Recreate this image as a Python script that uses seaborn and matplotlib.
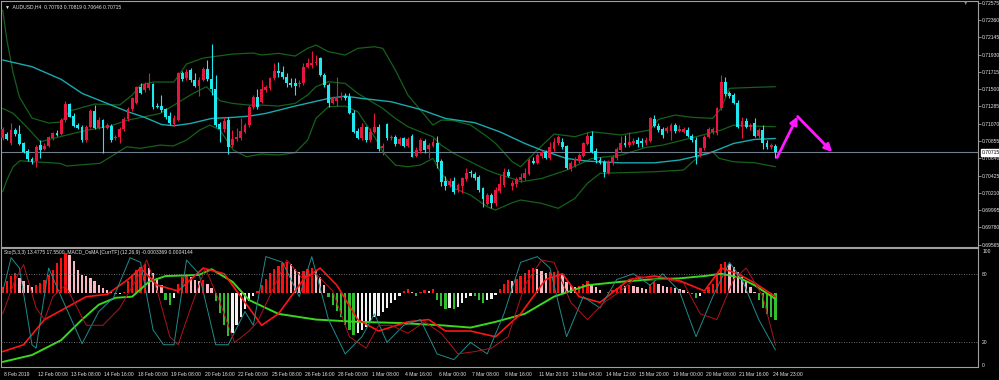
import numpy as np
import matplotlib
matplotlib.use("Agg")
import matplotlib.pyplot as plt
import matplotlib.transforms as mtransforms
import seaborn as sns

sns.set_theme(style="dark")
plt.rcParams['font.family'] = ['Liberation Sans', 'DejaVu Sans']

# AUDUSD H4 candles (8 Feb 2019 .. 24 Mar 2019)
open_ = [0.70887, 0.70941, 0.70825, 0.70991, 0.70941, 0.70825, 0.70734, 0.70634, 0.70609, 0.70804,
         0.70751, 0.70792, 0.70887, 0.70958, 0.70941, 0.71116, 0.71315, 0.71165, 0.71053, 0.71033,
         0.70867, 0.71033, 0.71228, 0.71020, 0.71116, 0.71020, 0.71041, 0.70887, 0.70908, 0.71000,
         0.71124, 0.71248, 0.71331, 0.71522, 0.71489, 0.71510, 0.71564, 0.71290, 0.71290, 0.71248,
         0.71165, 0.71066, 0.71116, 0.71705, 0.71634, 0.71738, 0.71614, 0.71539, 0.71614, 0.71746,
         0.71622, 0.71497, 0.71061, 0.71000, 0.71116, 0.70804, 0.70875, 0.70887, 0.70970, 0.71053,
         0.71273, 0.71406, 0.71344, 0.71489, 0.71510, 0.71634, 0.71730, 0.71717, 0.71647, 0.71580,
         0.71572, 0.71564, 0.71572, 0.71779, 0.71800, 0.71821, 0.71883, 0.71676, 0.71551, 0.71331,
         0.71356, 0.71385, 0.71414, 0.71406, 0.71207, 0.70983, 0.70887, 0.71024, 0.70867, 0.70970,
         0.71033, 0.70763, 0.71061, 0.70887, 0.70900, 0.70817, 0.70887, 0.70792, 0.70916, 0.70667,
         0.70734, 0.70858, 0.70751, 0.70792, 0.70825, 0.70605, 0.70360, 0.70306, 0.70360, 0.70244,
         0.70294, 0.70377, 0.70472, 0.70443, 0.70410, 0.70265, 0.70070, 0.70182, 0.70078, 0.70236,
         0.70306, 0.70472, 0.70294, 0.70319, 0.70368, 0.70389, 0.70443, 0.70609, 0.70584, 0.70667,
         0.70721, 0.70638, 0.70751, 0.70825, 0.70846, 0.70792, 0.70501, 0.70543, 0.70609, 0.70667,
         0.70817, 0.70916, 0.70734, 0.70618, 0.70597, 0.70460, 0.70576, 0.70638, 0.70742, 0.70833,
         0.70804, 0.70825, 0.70867, 0.70858, 0.70825, 0.70858, 0.71124, 0.71041, 0.71000, 0.70983,
         0.70983, 0.71053, 0.70983, 0.70970, 0.70991, 0.70916, 0.70867, 0.70667, 0.70763, 0.70908,
         0.70970, 0.70950, 0.71261, 0.71593, 0.71448, 0.71427, 0.71331, 0.71033, 0.71107, 0.71033,
         0.71074, 0.70916, 0.70991, 0.70834, 0.70775, 0.70793]
high = [0.71033, 0.70970, 0.71074, 0.71012, 0.71053, 0.70846, 0.70751, 0.70659, 0.70804, 0.70867,
        0.70825, 0.70916, 0.70970, 0.70991, 0.71136, 0.71356, 0.71331, 0.71199, 0.71074, 0.71053,
        0.71053, 0.71248, 0.71302, 0.71149, 0.71124, 0.71074, 0.71066, 0.70929, 0.71033, 0.71149,
        0.71281, 0.71406, 0.71539, 0.71580, 0.71593, 0.71705, 0.71580, 0.71331, 0.71427, 0.71261,
        0.71219, 0.71178, 0.71717, 0.71730, 0.71746, 0.71759, 0.71697, 0.71655, 0.71771, 0.71863,
        0.72062, 0.71676, 0.71095, 0.71149, 0.71149, 0.70991, 0.71012, 0.71136, 0.71083, 0.71302,
        0.71427, 0.71497, 0.71614, 0.71551, 0.71655, 0.71821, 0.71842, 0.71788, 0.71697, 0.71634,
        0.71634, 0.71614, 0.71821, 0.71883, 0.71979, 0.71925, 0.71896, 0.71705, 0.71572, 0.71414,
        0.71655, 0.71468, 0.71448, 0.71456, 0.71240, 0.71012, 0.71074, 0.71041, 0.71012, 0.71207,
        0.71066, 0.70825, 0.71074, 0.70929, 0.70929, 0.70900, 0.70908, 0.70900, 0.70941, 0.70775,
        0.70887, 0.70875, 0.70825, 0.70887, 0.70916, 0.70626, 0.70418, 0.70389, 0.70410, 0.70327,
        0.70410, 0.70514, 0.70493, 0.70472, 0.70431, 0.70286, 0.70211, 0.70203, 0.70286, 0.70431,
        0.70514, 0.70501, 0.70368, 0.70410, 0.70452, 0.70514, 0.70638, 0.70659, 0.70709, 0.70742,
        0.70742, 0.70846, 0.70887, 0.70929, 0.70887, 0.70804, 0.70609, 0.70659, 0.70709, 0.70846,
        0.70970, 0.70983, 0.70763, 0.70651, 0.70618, 0.70618, 0.70680, 0.70775, 0.70916, 0.70929,
        0.70970, 0.70887, 0.70900, 0.70887, 0.70900, 0.71149, 0.71178, 0.71074, 0.71033, 0.71041,
        0.71083, 0.71074, 0.71053, 0.71024, 0.71033, 0.70941, 0.70908, 0.70784, 0.70929, 0.71024,
        0.71033, 0.71281, 0.71676, 0.71655, 0.71481, 0.71448, 0.71365, 0.71149, 0.71136, 0.71083,
        0.71136, 0.71012, 0.71053, 0.70867, 0.70825, 0.70819]
low = [0.70867, 0.70867, 0.70804, 0.70916, 0.70804, 0.70701, 0.70609, 0.70568, 0.70535, 0.70638,
       0.70742, 0.70775, 0.70867, 0.70916, 0.70929, 0.71095, 0.71149, 0.71024, 0.71000, 0.70846,
       0.70846, 0.71012, 0.71000, 0.71000, 0.70701, 0.71008, 0.70846, 0.70867, 0.70834, 0.70983,
       0.71107, 0.71232, 0.71315, 0.71439, 0.71468, 0.71489, 0.71248, 0.71261, 0.71219, 0.71124,
       0.71053, 0.71041, 0.71107, 0.71605, 0.71614, 0.71593, 0.71522, 0.71414, 0.71605, 0.71605,
       0.71427, 0.71033, 0.70846, 0.70970, 0.70692, 0.70775, 0.70858, 0.70867, 0.70950, 0.71033,
       0.71248, 0.71248, 0.71323, 0.71468, 0.71489, 0.71614, 0.71655, 0.71622, 0.71531, 0.71531,
       0.71427, 0.71531, 0.71551, 0.71759, 0.71759, 0.71800, 0.71663, 0.71531, 0.71273, 0.71315,
       0.71290, 0.71365, 0.71365, 0.71190, 0.70950, 0.70875, 0.70867, 0.70846, 0.70846, 0.70950,
       0.70734, 0.70680, 0.70867, 0.70867, 0.70792, 0.70804, 0.70784, 0.70775, 0.70651, 0.70651,
       0.70709, 0.70709, 0.70638, 0.70775, 0.70514, 0.70294, 0.70252, 0.70286, 0.70194, 0.70223,
       0.70203, 0.70360, 0.70410, 0.70368, 0.70223, 0.70037, 0.70057, 0.70028, 0.70045, 0.70211,
       0.70286, 0.70402, 0.70252, 0.70286, 0.70348, 0.70368, 0.70431, 0.70568, 0.70568, 0.70638,
       0.70626, 0.70618, 0.70734, 0.70804, 0.70751, 0.70501, 0.70485, 0.70526, 0.70584, 0.70651,
       0.70804, 0.70709, 0.70584, 0.70568, 0.70410, 0.70443, 0.70555, 0.70618, 0.70721, 0.70784,
       0.70784, 0.70804, 0.70784, 0.70775, 0.70804, 0.70846, 0.71024, 0.70970, 0.70887, 0.70958,
       0.70867, 0.70958, 0.70970, 0.70950, 0.70900, 0.70846, 0.70568, 0.70651, 0.70742, 0.70887,
       0.70941, 0.70929, 0.71240, 0.71414, 0.71385, 0.71315, 0.71012, 0.70887, 0.71012, 0.70991,
       0.70900, 0.70887, 0.70751, 0.70751, 0.70751, 0.70646]
close = [0.71004, 0.70879, 0.70991, 0.70941, 0.70817, 0.70721, 0.70626, 0.70597, 0.70784, 0.70742,
         0.70796, 0.70900, 0.70958, 0.70929, 0.71116, 0.71315, 0.71157, 0.71041, 0.71020, 0.70867,
         0.71033, 0.71228, 0.71012, 0.71116, 0.71012, 0.71053, 0.70867, 0.70908, 0.71004, 0.71124,
         0.71248, 0.71385, 0.71522, 0.71456, 0.71564, 0.71580, 0.71273, 0.71281, 0.71240, 0.71149,
         0.71083, 0.71136, 0.71705, 0.71622, 0.71717, 0.71614, 0.71539, 0.71614, 0.71746, 0.71622,
         0.71497, 0.71053, 0.71000, 0.71107, 0.70784, 0.70875, 0.70900, 0.70983, 0.71053, 0.71281,
         0.71406, 0.71273, 0.71497, 0.71522, 0.71634, 0.71730, 0.71705, 0.71647, 0.71572, 0.71551,
         0.71539, 0.71580, 0.71771, 0.71821, 0.71829, 0.71842, 0.71676, 0.71551, 0.71331, 0.71385,
         0.71406, 0.71414, 0.71385, 0.71207, 0.70970, 0.70887, 0.71033, 0.70867, 0.70970, 0.71033,
         0.70755, 0.70792, 0.70887, 0.70900, 0.70817, 0.70875, 0.70792, 0.70875, 0.70659, 0.70742,
         0.70867, 0.70742, 0.70804, 0.70846, 0.70597, 0.70348, 0.70294, 0.70360, 0.70223, 0.70306,
         0.70389, 0.70460, 0.70452, 0.70389, 0.70252, 0.70140, 0.70182, 0.70078, 0.70252, 0.70319,
         0.70472, 0.70418, 0.70335, 0.70377, 0.70410, 0.70460, 0.70618, 0.70584, 0.70680, 0.70721,
         0.70638, 0.70784, 0.70846, 0.70908, 0.70775, 0.70514, 0.70584, 0.70626, 0.70680, 0.70825,
         0.70916, 0.70721, 0.70618, 0.70584, 0.70472, 0.70584, 0.70651, 0.70751, 0.70833, 0.70804,
         0.70846, 0.70858, 0.70817, 0.70825, 0.70867, 0.71136, 0.71041, 0.70991, 0.70929, 0.71012,
         0.71053, 0.70983, 0.71000, 0.71000, 0.70916, 0.70867, 0.70659, 0.70763, 0.70908, 0.71000,
         0.71000, 0.71261, 0.71593, 0.71439, 0.71414, 0.71331, 0.71033, 0.71107, 0.71033, 0.71053,
         0.70916, 0.70991, 0.70834, 0.70775, 0.70804, 0.70715]

# Bollinger bands (higher timeframe) and moving average, read at knots (bar index, price)
upper_bars = [0, 1, 2.5, 4, 7, 11, 14, 16, 22, 28, 31, 33, 36, 41, 44, 48, 55, 60, 62, 66, 70, 73, 75, 78,
              82, 85, 89, 91, 94, 97, 100, 103, 105, 108, 112, 116, 118, 122, 124, 128, 132, 137, 141,
              148, 155, 157, 161, 165, 170, 172, 174, 180, 185]
upper_vals = [0.72485, 0.72111, 0.71701, 0.71402, 0.71141, 0.71079, 0.71091, 0.71228, 0.71315, 0.71303,
              0.71427, 0.71552, 0.71589, 0.71589, 0.71813, 0.71887, 0.71937, 0.71950, 0.71925, 0.71946,
              0.71912, 0.72008, 0.72049, 0.71966, 0.71925, 0.72008, 0.72028, 0.72008, 0.71738, 0.71427,
              0.71241, 0.71054, 0.71116, 0.71108, 0.71054, 0.70909, 0.70826, 0.70597, 0.70535, 0.70743,
              0.70942, 0.70909, 0.70971, 0.70930, 0.70992, 0.71125, 0.71178, 0.71150, 0.71137, 0.71262,
              0.71511, 0.71523, 0.71531]
middle_bars = [0, 2.5, 5.7, 9, 13.7, 18.5, 22.5, 25.7, 30, 34, 37.7, 41, 45.6, 48.8, 52, 55, 59, 62, 66,
               70, 73, 75, 78, 82, 85, 89, 91, 94, 97, 100, 103, 105, 108, 112, 116, 118, 122, 124, 129,
               135, 141, 148, 154, 158, 166, 172, 175, 180, 185]
middle_vals = [0.71261, 0.71199, 0.71033, 0.70846, 0.70908, 0.70970, 0.71012, 0.71041, 0.71116, 0.71157,
               0.71199, 0.71302, 0.71448, 0.71531, 0.71356, 0.71323, 0.71302, 0.71302, 0.71290, 0.71323,
               0.71427, 0.71531, 0.71593, 0.71572, 0.71448, 0.71323, 0.71261, 0.71136, 0.71033, 0.70970,
               0.70908, 0.70804, 0.70701, 0.70597, 0.70493, 0.70452, 0.70389, 0.70348, 0.70389, 0.70493,
               0.70638, 0.70680, 0.70775, 0.70804, 0.70908, 0.70991, 0.71053, 0.71041, 0.71033]
lower_bars = [0, 1, 2.5, 4.1, 7.3, 13.7, 15.3, 23.3, 26.5, 29.7, 32.9, 37.7, 40.8, 44, 47.2, 49.6, 52,
              55.2, 58.4, 62, 66, 70, 73, 75, 78, 82, 85, 89, 91, 94, 97, 100, 103, 105, 108, 112, 116,
              118, 122, 124, 129, 133, 137, 140, 143, 148, 156, 163, 167, 170, 171.5, 175, 180, 185]
lower_vals = [0.70224, 0.70370, 0.70535, 0.70610, 0.70597, 0.70578, 0.70544, 0.70578, 0.70681, 0.70784,
              0.70764, 0.70805, 0.70793, 0.70867, 0.70992, 0.71054, 0.70992, 0.70743, 0.70660, 0.70693,
              0.70681, 0.70709, 0.70867, 0.71137, 0.71282, 0.71290, 0.71220, 0.70909, 0.70722, 0.70556,
              0.70535, 0.70556, 0.70640, 0.70453, 0.70267, 0.70183, 0.70038, 0.69997, 0.70088, 0.70121,
              0.70080, 0.70018, 0.70142, 0.70329, 0.70453, 0.70461, 0.70473, 0.70494, 0.70681, 0.70722,
              0.70640, 0.70597, 0.70585, 0.70535]
ma_bars = [0, 7, 14, 19, 25, 30, 34, 38, 41, 45, 50, 55, 59, 63, 70, 78, 82, 86, 93, 100, 106, 113, 119,
           125, 129, 135, 140, 148, 156, 162, 169, 175, 180, 185]
ma_vals = [0.71863, 0.71780, 0.71622, 0.71448, 0.71323, 0.71219, 0.71149, 0.71061, 0.71045, 0.71074,
           0.71136, 0.71149, 0.71165, 0.71199, 0.71290, 0.71385, 0.71414, 0.71385, 0.71344, 0.71248,
           0.71136, 0.71083, 0.70970, 0.70825, 0.70742, 0.70638, 0.70605, 0.70584, 0.70584, 0.70618,
           0.70701, 0.70825, 0.70875, 0.70887]

# lower window: Stoch(5,3,3) and MACD_OsMA
k_bars = [0, 2, 4, 7, 8, 11, 14, 19, 23, 26.5, 30.5, 33, 36, 38.5, 41, 44, 47, 51, 54, 58, 60, 63, 67,
          71, 74, 78, 82, 86, 89, 92, 96, 100, 104, 108, 112, 116, 120, 124, 128, 131, 135, 139, 143,
          147, 151, 155, 158, 162, 166, 170, 174, 177, 181, 185]
k_vals = [64, 94, 85, 18, 15, 85, 60, 19, 47, 59, 94, 90, 31, 18, 18, 92, 80, 18, 18, 47, 35, 95, 90, 60,
          95, 40, 10, 25, 45, 20, 35, 40, 10, 5, 20, 10, 45, 90, 95, 85, 25, 60, 50, 75, 80, 70, 80, 65,
          25, 60, 90, 75, 40, 13.48]
d_bars = [0, 3, 5, 8, 10, 12, 15, 20, 24, 28, 32, 34.5, 37, 40, 42, 45, 48.5, 52, 55.5, 59, 61, 64.5,
          68, 72, 75, 79, 83, 87, 90, 93, 97, 101, 105, 109, 113, 117, 121, 125, 129, 132, 136, 140,
          144, 148, 152, 156, 159, 163, 167, 171, 175, 178, 182, 185]
d_vals = [45, 75, 88, 50, 40, 60, 70, 35, 35, 50, 75, 92, 65, 25, 18, 50, 85, 55, 20, 30, 38, 65, 92, 75,
          80, 65, 25, 15, 35, 35, 28, 38, 28, 10, 12, 15, 25, 70, 92, 90, 55, 40, 55, 65, 78, 75, 75, 72,
          45, 40, 75, 85, 60, 17.55]
fast_bars = [0, 5, 10, 15, 20, 25, 30, 33, 37, 42, 48, 53, 58, 62, 66, 72, 76, 80, 85, 90, 97, 102, 106,
             112, 118, 124, 130, 134, 138, 143, 150, 156, 162, 168, 172, 176, 180, 185]
fast_vals = [12, 18, 40, 50, 60, 62, 75, 85, 70, 65, 85, 80, 55, 35, 45, 75, 85, 70, 40, 30, 38, 40, 30,
             30, 25, 45, 75, 80, 60, 55, 75, 78, 74, 65, 85, 80, 72, 60]
slow_bars = [0, 7, 14, 19, 23, 27, 31, 35, 39, 47, 50, 55, 59, 66, 75, 85, 95, 105, 112, 118, 125, 132,
             140, 148, 155, 162, 168, 172, 176, 180, 185]
slow_vals = [3, 9, 22, 40, 53, 59, 60, 73, 78, 79, 84, 73, 57, 45, 40, 38, 37, 35, 33, 38, 45, 60, 70, 73,
             75, 76, 78, 80, 77, 70, 58]
# OsMA histogram, units of 1e-4
osma_e4 = [0.8, 1.5, 2.1, 2.5, 1.9, 1.5, 1.0, 0.8, 1.0, 1.3,
           1.7, 2.3, 2.9, 3.8, 4.4, 5.0, 4.8, 4.0, 2.9, 2.3,
           2.1, 1.9, 1.5, 1.0, 0.6, 0.4, 0.2, -0.1, -0.1, 0.1,
           1.5, 2.1, 2.9, 3.3, 3.6, 3.2, 2.5, 1.9, 1.0, -0.8,
           -1.5, -0.6, 1.2, 2.0, 2.3, 2.0, 1.7, 1.5, 1.6, 1.2,
           0.6, -1.0, -2.5, -4.0, -5.4, -5.0, -4.0, -3.0, -2.0, -1.0,
           -0.3, 0.3, 1.0,
           1.8, 2.5, 3.0, 3.4, 3.8, 3.9, 3.6, 3.0, 2.6,
           2.8, 3.0, 3.2, 2.8, 2.0, 1.0,
           -0.5, -1.5, -2.2, -3.0, -4.0, -4.6, -5.2, -5.0, -4.6, -4.2,
           -3.6, -3.0, -2.8, -2.4, -1.8, -1.2, -0.8, -0.4,
           0.3, 0.5, 0.2, -0.3, 0.2, 0.4, 0.3, 0.5,
           -0.8, -1.6, -2.0, -1.8, -2.0, -1.7, -1.2, -0.6, -0.3,
           -0.4, -0.8, -1.2, -0.9, -0.7, -0.2, 0.5,
           1.2, 1.6, 1.5, 1.8, 2.2, 2.5, 2.9, 3.1, 3.0, 2.8, 2.5,
           2.6, 2.7, 2.8, 2.3, 1.4, 1.0, 0.8, 0.9, 1.2, 1.5, 1.2, 0.8, 0.4,
           0.0, 0.2, 0.4, 0.7, 1.0, 0.9, 1.0, 0.9, 0.8, 0.6, 0.5, 1.2,
           1.4, 1.2, 0.9, 0.8, 0.8, 0.6, 0.5, 0.4, 0.2, -0.1,
           -0.6, -0.4, 0.2, 0.8, 1.2, 2.5, 3.6, 3.9, 3.7,
           3.3, 2.6, 2.0, 1.4, 0.8, 0.2, -0.8, -1.8, -2.6, -3.0, -3.369]

price_ticks = [0.69565, 0.69780, 0.69995, 0.70210, 0.70425, 0.70640, 0.70855, 0.71070, 0.71285,
               0.71500, 0.71715, 0.71930, 0.72145, 0.72360, 0.72575]
time_labels = ["8 Feb 2019", "12 Feb 00:00", "13 Feb 08:00", "14 Feb 16:00", "18 Feb 00:00",
               "19 Feb 08:00", "20 Feb 16:00", "22 Feb 00:00", "25 Feb 08:00", "26 Feb 16:00",
               "28 Feb 00:00", "1 Mar 08:00", "4 Mar 16:00", "6 Mar 00:00", "7 Mar 08:00",
               "8 Mar 16:00", "11 Mar 20:00", "13 Mar 04:00", "14 Mar 12:00", "15 Mar 20:00",
               "19 Mar 00:00", "20 Mar 08:00", "21 Mar 16:00", "24 Mar 23:00"]
time_label_bars = list(range(0, 185, 8))
last_price = 0.70715
# hand drawn arrow (bar index, price)
arrow_bars = [185.4, 190.3, 198.6]
arrow_prices = [0.70650, 0.71160, 0.70718]

BULL = "#e8163f"
BEAR = "#1fe8f0"
BAND = "#15611a"
AXC = "#a0a0a0"
TXT = "#e6e6e6"
FS = 3.6

o = np.array(open_); h = np.array(high); l = np.array(low); c = np.array(close)
bars = np.arange(len(c))

fig = plt.figure(figsize=(9.99, 3.8), dpi=100, facecolor="black")
ax = fig.add_axes([0.001, 1 - 246.5 / 380, 977 / 999, 245.5 / 380])
ax2 = fig.add_axes([0.001, 1 - 366.5 / 380, 977 / 999, 118.5 / 380])
xmin, xmax = -0.41, 233.5

for a in (ax, ax2):
    a.set_facecolor("black")
    a.grid(False)
    for s in a.spines.values():
        s.set_color(AXC)
        s.set_linewidth(0.8)

# bands + MA
for bx, by in ((upper_bars, upper_vals), (middle_bars, middle_vals), (lower_bars, lower_vals)):
    sns.lineplot(x=bx, y=by, ax=ax, color=BAND, linewidth=0.9, estimator=None)
sns.lineplot(x=ma_bars, y=ma_vals, ax=ax, color="#1aa9b0", linewidth=1.0, estimator=None)
ax.axhline(last_price, color="#6f7f8f", linewidth=0.8)

# candles
col = np.where(c >= o, BULL, BEAR)
ax.vlines(bars, l, h, colors=col, linewidth=0.8, zorder=3)
body = np.maximum(np.abs(c - o), 0.00003)
ax.bar(bars, body, bottom=np.minimum(o, c), width=0.68, color=col, linewidth=0, zorder=4)

# arrow
ax.annotate("", xy=(arrow_bars[1], arrow_prices[1]), xytext=(arrow_bars[0], arrow_prices[0]),
            arrowprops=dict(arrowstyle="-|>", color="#ff1aff", lw=2.0, mutation_scale=11,
                            shrinkA=0, shrinkB=0), zorder=6)
ax.annotate("", xy=(arrow_bars[2], arrow_prices[2]), xytext=(arrow_bars[1], arrow_prices[1]),
            arrowprops=dict(arrowstyle="-|>", color="#ff1aff", lw=2.0, mutation_scale=11,
                            shrinkA=0, shrinkB=0), zorder=6)

ax.set_xlim(xmin, xmax)
ax.set_ylim(0.69543, 0.72597)
ax.set_xticks([])
ax.set_xlabel("")
ax.set_ylabel("")
ax.yaxis.tick_right()
ax.set_yticks(price_ticks)
ax.set_yticklabels([f"{p:.5f}" for p in price_ticks])
ax.tick_params(axis="y", colors=AXC, labelcolor=TXT, labelsize=FS, length=2, width=0.6, pad=1)
ax.annotate(f"{last_price:.5f}", xy=(1.0, last_price), xycoords=("axes fraction", "data"),
            xytext=(2.5, 0), textcoords="offset points", va="center", ha="left", fontsize=FS,
            color="black", bbox=dict(boxstyle="square,pad=0.15", fc="white", ec="white"))
ax.text(0.004, 0.985, "\u25bc  AUDUSD,H4  0.70793 0.70819 0.70646 0.70715", transform=ax.transAxes,
        color=TXT, fontsize=FS, va="top", ha="left")
fig.text(966 / 999, 1 - 3 / 380, "\u25bc", color="#8a8a8a", fontsize=4, ha="center", va="center")

# lower window
ax3 = ax2.twinx()
osma = np.array(osma_e4) * 1e-4
prev = np.concatenate([[osma[0]], osma[:-1]])
hcol = np.where(osma >= 0, np.where(osma >= prev, "#ff1010", "#f7b8c4"),
                np.where(osma < prev, "#2fbf2f", "#f2f2f2"))
ax3.bar(bars, osma, width=0.55, color=hcol, linewidth=0)
ax3.set_ylim(-0.000915, 0.000566)
ax3.set_yticks([])
ax3.set_xlim(xmin, xmax)
ax3.grid(False)
for s in ax3.spines.values():
    s.set_visible(False)

ax2.set_zorder(ax3.get_zorder() + 1)
ax2.patch.set_visible(False)
ax3.patch.set_facecolor("black")
ax3.patch.set_visible(True)

sns.lineplot(x=slow_bars, y=slow_vals, ax=ax2, color="#3ad81c", linewidth=1.4, estimator=None)
sns.lineplot(x=fast_bars, y=fast_vals, ax=ax2, color="#ff1414", linewidth=1.2, estimator=None)
sns.lineplot(x=k_bars, y=k_vals, ax=ax2, color="#1f8c8a", linewidth=0.7, estimator=None)
sns.lineplot(x=d_bars, y=d_vals, ax=ax2, color="#b0141e", linewidth=0.7, estimator=None)
for lvl in (20, 80):
    ax2.axhline(lvl, color="#8c8c8c", linewidth=0.6, linestyle=(0, (1, 2)))
ax2.set_xlim(xmin, xmax)
ax2.set_ylim(-1, 102.5)
ax2.set_xlabel("")
ax2.set_ylabel("")
ax2.yaxis.tick_right()
ax2.set_yticks([0, 20, 80, 100])
ax2.set_yticklabels(["0", "20", "80", "100"])
ax2.tick_params(axis="y", colors=AXC, labelcolor=TXT, labelsize=FS, length=0, pad=3)
ax2.set_xticks(time_label_bars)
ax2.set_xticklabels(time_labels, ha="left")
ax2.tick_params(axis="x", colors=AXC, labelcolor=TXT, labelsize=FS, length=4, width=0.6,
                direction="out", pad=0)
shift = mtransforms.ScaledTranslation(1.5 / 100, 0, fig.dpi_scale_trans)
for lab in ax2.get_xticklabels():
    lab.set_transform(lab.get_transform() + shift)
ax2.text(0.003, 0.985, "Sto(5,3,3) 13.4775 17.5500  MACD_OsMA [CurrTF] (12,26,9) -0.0003369 0.0004144",
         transform=ax2.transAxes, color=TXT, fontsize=FS, va="top", ha="left")

fig.savefig("out.png", dpi=100, facecolor="black")
